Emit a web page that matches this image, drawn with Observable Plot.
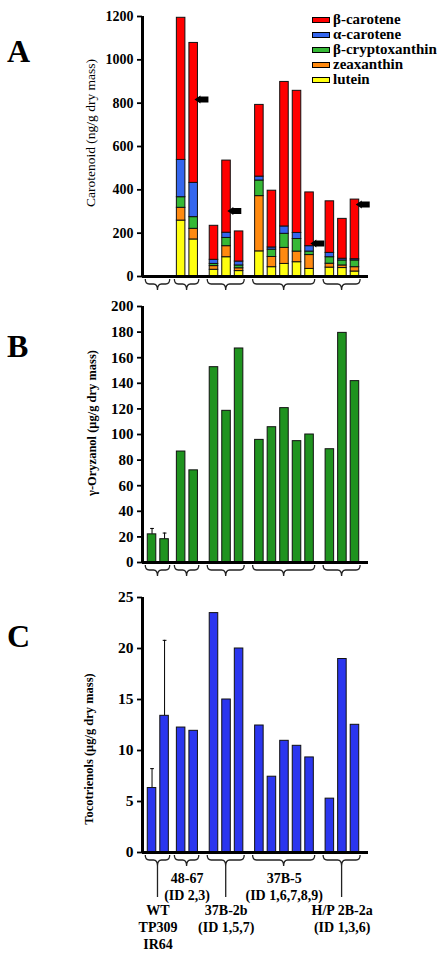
<!DOCTYPE html>
<html><head><meta charset="utf-8">
<script src="https://cdn.jsdelivr.net/npm/d3@7"></script>
<script src="https://cdn.jsdelivr.net/npm/@observablehq/plot@0.6"></script>
<style>
body{margin:0;background:#fff;}
#wrap{position:relative;width:445px;height:954px;font-family:"Liberation Serif","Times New Roman",serif;overflow:hidden;}
#wrap svg{display:block;overflow:visible;}
.letter{position:absolute;left:7px;font-size:32px;line-height:32px;font-weight:bold;}
.ylab{position:absolute;white-space:nowrap;transform:translate(-50%,-50%) rotate(-90deg);line-height:1;}
#legend{position:absolute;left:312px;top:12px;font-size:15px;font-weight:bold;}
.row{height:15px;line-height:15px;white-space:nowrap;}
.sw{display:inline-block;width:16px;height:4px;border:1px solid #000;margin-right:3px;vertical-align:middle;position:relative;top:-1px;}
</style></head><body><div id="wrap"></div>
<script>
// ---------------- data ----------------
const groupLabels = ["WT\nTP309\nIR64", "48-67\n(ID 2,3)", "37B-2b\n(ID 1,5,7)", "37B-5\n(ID 1,6,7,8,9)", "H/P 2B-2a\n(ID 1,3,6)"];
const groupSizes = [2, 2, 3, 5, 3];

const carotenoidSeries = ["β-carotene", "α-carotene", "β-cryptoxanthin", "zeaxanthin", "lutein"];
const carotenoidColors = ["#ff0000", "#3466ee", "#36b936", "#ff8a10", "#ffff10"];
// per bar (15 bars), ng/g dry mass
const lutein        = [0, 0, 258, 171, 31, 89, 25, 116, 43, 58, 66, 35, 41, 39, 23];
const zeaxanthin    = [0, 0, 59, 49, 17, 51, 13, 255, 47, 74, 49, 64, 18, 12, 20];
const cryptoxanthin = [0, 0, 49, 54, 10, 38, 13, 72, 34, 65, 58, 16, 30, 23, 31];
const alphaCarotene = [0, 0, 172, 158, 19, 24, 18, 18, 10, 34, 28, 25, 20, 8, 6];
const betaCarotene  = [0, 0, 656, 646, 157, 333, 139, 331, 262, 667, 656, 248, 238, 184, 275];
const carotenoidTicks = [0, 200, 400, 600, 800, 1000, 1200];
const arrowBars = [3, 5, 11, 14];
const arrowValues = [815, 300, 150, 330];

const oryzanol = [22, 18.2, 86.7, 72, 152.6, 118.5, 167.2, 95.8, 105.7, 120.6, 94.8, 100, 88.5, 179.4, 141.7];
const oryzanolErr = [4.6, 4.8];
const oryzanolTicks = [0, 20, 40, 60, 80, 100, 120, 140, 160, 180, 200];

const tocotrienols = [6.32, 13.4, 12.25, 11.93, 23.47, 15.0, 20.0, 12.45, 7.43, 10.95, 10.46, 9.32, 5.28, 18.97, 12.52];
const tocotrienolErr = [1.9, 7.4];
const tocotrienolTicks = [0, 5, 10, 15, 20, 25];

const yTitles = ["Carotenoid (ng/g dry mass)", "γ-Oryzanol (μg/g dry mass)", "Tocotrienols (μg/g dry mass)"];
const panelLetters = ["A", "B", "C"];

// ---------------- layout helpers ----------------
const SERIF = '"Liberation Serif","Times New Roman",serif';
const GAP = [0, 0.32, 0.62, 0.62, 0.62];
const pos = [], barGroup = [];
{ let p = 0; groupSizes.forEach((n, g) => { p += GAP[g]; for (let k = 0; k < n; k++) { pos.push(p); barGroup.push(g); p++; } }); }
const groupFirst = groupSizes.map((_, g) => pos[barGroup.indexOf(g)]);
const groupLast = groupSizes.map((_, g) => pos[barGroup.lastIndexOf(g)]);
const groups = groupLabels.map((label, g) => ({label, g, center: (groupFirst[g] - 0.5 + groupLast[g] + 0.45) / 2}));
const HW = 0.34;
const xDomain = [-0.76, pos[pos.length - 1] + 1.08];
const NS = "http://www.w3.org/2000/svg";

function braceMark(leader) {
  return (index, scales, values, dims) => {
    const x = scales.x, y0 = dims.height - dims.marginBottom;
    const g = document.createElementNS(NS, "g");
    groups.forEach(({g: gi}) => {
      const x1 = x(groupFirst[gi] - 0.5), x2 = x(groupLast[gi] + 0.45), xc = (x1 + x2) / 2;
      const a = y0 + 3, b = y0 + 8, t = y0 + 14;
      const d = `M${x1},${a} Q${x1},${b} ${x1 + 4},${b} L${xc - 4},${b} Q${xc},${b} ${xc},${t} Q${xc},${b} ${xc + 4},${b} L${x2 - 4},${b} Q${x2},${b} ${x2},${a}`;
      const path = document.createElementNS(NS, "path");
      path.setAttribute("d", d); path.setAttribute("fill", "none");
      path.setAttribute("stroke", "#222"); path.setAttribute("stroke-width", "1.3");
      g.appendChild(path);
      if (leader && gi % 2 === 0) {
        const l = document.createElementNS(NS, "path");
        l.setAttribute("d", `M${xc},${t} L${xc},${y0 + 45}`);
        l.setAttribute("stroke", "#222"); l.setAttribute("stroke-width", "1.3");
        g.appendChild(l);
      }
    });
    return g;
  };
}

function arrowMark(index, scales) {
  const g = document.createElementNS(NS, "g");
  arrowBars.forEach((b, i) => {
    const tx = scales.x(pos[b] + HW) - 3, ty = scales.y(arrowValues[i]);
    const d = `M${tx},${ty} L${tx + 6},${ty - 4} L${tx + 6},${ty - 3} L${tx + 14},${ty - 3} L${tx + 14},${ty + 3} L${tx + 6},${ty + 3} L${tx + 6},${ty + 4} Z`;
    const p = document.createElementNS(NS, "path");
    p.setAttribute("d", d); p.setAttribute("fill", "#000");
    g.appendChild(p);
  });
  return g;
}

function base(h, mt, mb) {
  return {width: 445, height: h, marginTop: mt, marginBottom: mb, marginLeft: 142, marginRight: 77,
    x: {domain: xDomain, axis: null},
    style: {fontFamily: SERIF, background: "white", overflow: "visible", color: "black"}};
}
function axisMarks(ticks, fs) {
  return [
    Plot.axisY(ticks, {tickSize: 5, tickPadding: 4, strokeWidth: 1.8, fontSize: fs, fontWeight: "bold", fontFamily: SERIF, label: null, tickFormat: d => String(d)}),
    Plot.ruleX([xDomain[0]], {strokeWidth: 3}),
    Plot.ruleY([0], {strokeWidth: 3})
  ];
}

// ---------------- panel A ----------------
const stackRows = [];
const seriesBottomUp = [[lutein, "lutein"], [zeaxanthin, "zeaxanthin"], [cryptoxanthin, "β-cryptoxanthin"], [alphaCarotene, "α-carotene"], [betaCarotene, "β-carotene"]];
pos.forEach((p, i) => {
  let acc = 0;
  seriesBottomUp.forEach(([arr, name]) => {
    if (arr[i] > 0) { stackRows.push({p, y1: acc, y2: acc + arr[i], series: name}); acc += arr[i]; }
  });
});
const plotA = Plot.plot({
  ...base(292, 16, 16),
  y: {domain: [0, 1200]},
  color: {domain: carotenoidSeries, range: carotenoidColors},
  marks: [
    Plot.rect(stackRows, {x1: d => d.p - HW, x2: d => d.p + HW, y1: "y1", y2: "y2", fill: "series", stroke: "#111", strokeWidth: 1}),
    arrowMark,
    braceMark(false),
    ...axisMarks(carotenoidTicks, 14)
  ]
});

// ---------------- panel B ----------------
const rowsB = pos.map((p, i) => ({p, v: oryzanol[i], e: oryzanolErr[i]}));
const errB = rowsB.filter(d => d.e != null);
const plotB = Plot.plot({
  ...base(290, 14, 20),
  y: {domain: [0, 200]},
  marks: [
    Plot.ruleX(errB, {x: "p", y1: "v", y2: d => d.v + d.e, strokeWidth: 1}),
    Plot.link(errB, {x1: d => d.p - 0.15, x2: d => d.p + 0.15, y1: d => d.v + d.e, y2: d => d.v + d.e, strokeWidth: 1}),
    Plot.rectY(rowsB, {x1: d => d.p - HW, x2: d => d.p + HW, y: "v", fill: "#1f931f", stroke: "#111", strokeWidth: 1}),
    braceMark(false),
    ...axisMarks(oryzanolTicks, 15)
  ]
});

// ---------------- panel C ----------------
const rowsC = pos.map((p, i) => ({p, v: tocotrienols[i], e: tocotrienolErr[i]}));
const errC = rowsC.filter(d => d.e != null);
const plotC = Plot.plot({
  ...base(372, 15, 102),
  y: {domain: [0, 25]},
  marks: [
    Plot.ruleX(errC, {x: "p", y1: "v", y2: d => d.v + d.e, strokeWidth: 1}),
    Plot.link(errC, {x1: d => d.p - 0.15, x2: d => d.p + 0.15, y1: d => d.v + d.e, y2: d => d.v + d.e, strokeWidth: 1}),
    Plot.rectY(rowsC, {x1: d => d.p - HW, x2: d => d.p + HW, y: "v", fill: "#2b36ef", stroke: "#111", strokeWidth: 1}),
    braceMark(true),
    Plot.text(groups, {filter: d => d.g % 2 === 1, x: "center", text: "label", frameAnchor: "bottom", lineAnchor: "top", dy: 18, lineHeight: 1.25, fontSize: 14, fontWeight: "bold", fontFamily: SERIF}),
    Plot.text(groups, {filter: d => d.g % 2 === 0, x: "center", text: "label", frameAnchor: "bottom", lineAnchor: "top", dy: 50, lineHeight: 1.22, fontSize: 14, fontWeight: "bold", fontFamily: SERIF}),
    ...axisMarks(tocotrienolTicks, 15.5)
  ]
});

// ---------------- assemble ----------------
const wrap = document.getElementById("wrap");
wrap.append(plotA, plotB, plotC);
const letterTops = [35, 330, 620];
panelLetters.forEach((t, i) => {
  const d = document.createElement("div"); d.className = "letter"; d.style.top = letterTops[i] + "px"; d.textContent = t; wrap.appendChild(d);
});
const titleCenters = [[91, 133, "normal", 13.5], [91.5, 423, "bold", 12.5], [89, 749, "bold", 12.5]];
yTitles.forEach((t, i) => {
  const [cx, cy, w, fs] = titleCenters[i];
  const d = document.createElement("div"); d.className = "ylab";
  d.style.left = cx + "px"; d.style.top = cy + "px"; d.style.fontWeight = w; d.style.fontSize = fs + "px";
  d.textContent = t; wrap.appendChild(d);
});
const legend = document.createElement("div"); legend.id = "legend";
carotenoidSeries.forEach((s, i) => {
  const r = document.createElement("div"); r.className = "row";
  const sw = document.createElement("span"); sw.className = "sw"; sw.style.background = carotenoidColors[i];
  r.appendChild(sw); r.appendChild(document.createTextNode(s)); legend.appendChild(r);
});
wrap.appendChild(legend);
</script></body></html>
